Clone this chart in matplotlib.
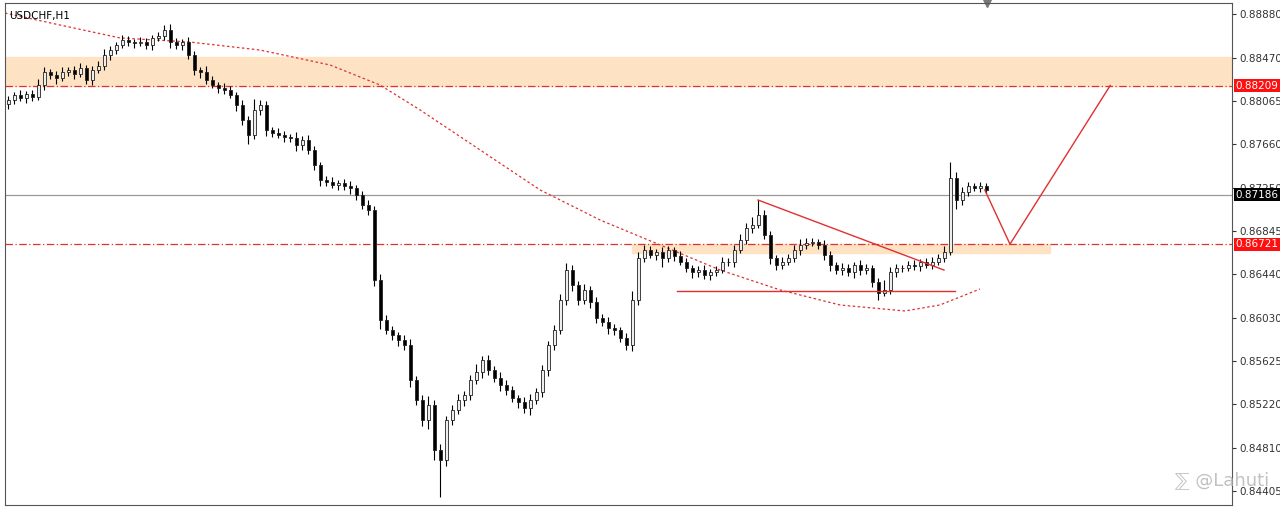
import matplotlib
matplotlib.use("Agg")
import matplotlib.pyplot as plt
from matplotlib.patches import Rectangle

closes = [0.88073,0.88120,0.88092,0.88129,0.88101,0.88214,0.88336,0.88307,0.88279,0.88336,
0.88354,0.88317,0.88373,0.88261,0.88354,0.88392,0.88495,0.88542,0.88589,0.88636,
0.88617,0.88608,0.88617,0.88589,0.88655,0.88673,0.88730,0.88617,0.88589,0.88617,
0.88495,0.88354,0.88336,0.88261,0.88214,0.88186,0.88167,0.88120,0.88026,0.87885,
0.87745,0.87979,0.88026,0.87792,0.87763,0.87745,0.87726,0.87717,0.87651,0.87698,
0.87604,0.87463,0.87323,0.87304,0.87276,0.87294,0.87266,0.87248,0.87182,0.87088,
0.87041,0.86385,0.86009,0.85916,0.85869,0.85822,0.85775,0.85447,0.85259,0.85071,
0.85212,0.84790,0.84696,0.85071,0.85165,0.85259,0.85306,0.85447,0.85522,0.85634,
0.85540,0.85465,0.85400,0.85353,0.85278,0.85240,0.85184,0.85259,0.85334,0.85540,
0.85775,0.85916,0.86197,0.86478,0.86338,0.86197,0.86291,0.86178,0.86028,0.85991,
0.85934,0.85916,0.85841,0.85775,0.86197,0.86591,0.86666,0.86619,0.86647,0.86591,
0.86666,0.86610,0.86553,0.86497,0.86460,0.86478,0.86431,0.86460,0.86478,0.86553,
0.86553,0.86666,0.86760,0.86872,0.86900,0.86994,0.86807,0.86591,0.86525,0.86553,
0.86591,0.86666,0.86713,0.86732,0.86741,0.86713,0.86619,0.86525,0.86478,0.86497,
0.86460,0.86525,0.86478,0.86497,0.86366,0.86263,0.86291,0.86460,0.86497,0.86497,
0.86525,0.86516,0.86553,0.86525,0.86553,0.86591,0.86647,0.87341,0.87135,0.87210,
0.87266,0.87248,0.87266,0.87229]
first_open = 0.88040
upper_pips = [4,3,5,3,4,6,5,3,4,5, 3,4,5,3,4,5,6,4,3,5, 4,3,5,4,3,4,5,6,4,3,
 5,4,3,6,4,3,5,4,3,5, 4,10,5,4,3,5,4,3,6,4, 5,4,3,4,5,3,4,5,3,4,
 5,4,6,5,4,3,5,6,4,5, 8,5,6,4,5,6,4,5,7,4, 5,4,6,5,4,3,5,6,4,5,
 4,5,6,7,5,4,6,4,5,4, 5,4,3,5,8,6,5,4,3,5, 4,3,5,4,3,4,5,3,4,5,
 4,5,6,5,8,14,5,4,3,5, 4,5,6,5,4,3,5,4,3,5, 4,3,5,4,3,4,9,5,4,3,
 4,5,3,4,5,4,6,15,6,5, 4,3,4,3]
lower_pips = [5,4,3,5,4,3,5,4,6,3, 4,5,3,4,5,3,4,5,4,3, 4,5,3,4,5,3,4,6,4,5,
 4,5,6,4,3,5,4,3,6,5, 8,4,5,6,4,3,5,4,6,5, 4,5,6,4,3,5,4,6,5,4,
 5,6,8,4,5,6,5,7,5,6, 8,9,35,6,5,4,6,5,4,6, 5,4,6,5,4,6,5,7,4,5,
 6,5,4,5,6,5,4,6,5,4, 6,5,4,5,6,5,4,3,5,8, 4,5,3,4,6,5,4,5,4,3,
 4,5,3,4,5,3,4,6,5,4, 3,4,5,4,3,4,5,6,4,5, 4,6,5,4,5,7,3,4,5,4,
 3,4,5,3,4,3,4,3,8,5, 4,3,4,3]

ma_idx = [-0.5,8.7,18.7,30.3,42,53.7,62,68.7,78.7,88.7,98.7,108.7,118.7,128.7,138.7,149.5,155.3,162]
ma_val = [0.88889,0.88776,0.88655,0.88617,0.88542,0.88401,0.88214,0.87979,0.87604,0.87229,
          0.86947,0.86713,0.86478,0.86291,0.86150,0.86094,0.86150,0.86300]

ticks = [0.88880,0.88470,0.88065,0.87660,0.87250,0.86845,0.86440,0.86030,0.85625,0.85220,0.84810,0.84405]
res_top, res_level = 0.88476, 0.88209
sup_level, sup_bottom = 0.86721, 0.86638
last_price = 0.87186
trend_x, trend_y = [125, 156], [0.87135, 0.86478]
flat_x, flat_y = [111.5, 157.8], [0.86281, 0.86281]
zig_x, zig_y = [162.8, 167, 183.7], [0.87229, 0.86721, 0.88209]

fig = plt.figure(figsize=(12.8, 5.11), dpi=100)
ax = fig.add_axes([5/1280, 6/511, 1227/1280, 502/511])
ax.set_xlim(-0.5, 204)
ax.set_ylim(0.84274, 0.88983)

ax.axhspan(res_level, res_top, color='#fde3c4', zorder=0)
ax.add_patch(Rectangle((104, sup_bottom), 69.7, sup_level - sup_bottom, color='#fde3c4', zorder=0))
ax.axhline(res_level, color='#e03030', lw=0.9, ls=(0, (6, 2, 1, 2)), zorder=1)
ax.axhline(sup_level, color='#e03030', lw=0.9, ls=(0, (6, 2, 1, 2)), zorder=1)
ax.axhline(last_price, color='#999999', lw=0.9, zorder=1)

opens = [first_open] + closes[:-1]
w = 0.5
for i, (o, c) in enumerate(zip(opens, closes)):
    hi = max(o, c) + upper_pips[i] * 0.0001
    lo = min(o, c) - lower_pips[i] * 0.0001
    ax.vlines(i, lo, hi, color='black', lw=0.8, zorder=3)
    bull = c >= o
    h = max(abs(c - o), 0.00003)
    ax.add_patch(Rectangle((i - w/2, min(o, c)), w, h,
                           facecolor='#eeeeee' if bull else 'black', edgecolor='#222222', lw=0.6, zorder=4))

ax.plot(ma_idx, ma_val, color='#e03030', lw=0.9, ls=(0, (2, 2)), zorder=2)
ax.plot(trend_x, trend_y, color='#e03030', lw=1, zorder=5)
ax.plot(flat_x, flat_y, color='#e03030', lw=1, zorder=5)
ax.plot(zig_x, zig_y, color='#e03030', lw=1, zorder=5)

ax.yaxis.tick_right()
ax.set_yticks(ticks)
ax.set_yticklabels([f"{t:.5f}" for t in ticks], fontsize=7.5)
ax.tick_params(axis='y', length=3, pad=2, colors='#333333')
ax.set_xticks([])
for s in ['top', 'right', 'left', 'bottom']:
    ax.spines[s].set_color('#555555')
    ax.spines[s].set_linewidth(0.8)

for val, bg in [(res_level, '#ff1010'), (last_price, 'black'), (sup_level, '#ff1010')]:
    ax.text(1.003, val, f"{val:.5f}", transform=ax.get_yaxis_transform(), fontsize=7.5,
            color='white', va='center', ha='left',
            bbox=dict(boxstyle='square,pad=0.15', fc=bg, ec='none'), zorder=10, clip_on=False)

ax.text(0.003, 0.985, "USDCHF,H1", transform=ax.transAxes, fontsize=7.5, va='top', ha='left')
ax.plot([163.2], [0.88983], marker='v', color='#777777', ms=6, clip_on=False)
fig.text(0.918, 0.05, "\u2140 @Lahuti", fontsize=13, color='#bbbbbb', alpha=0.9)

fig.savefig("out.png", dpi=100)
